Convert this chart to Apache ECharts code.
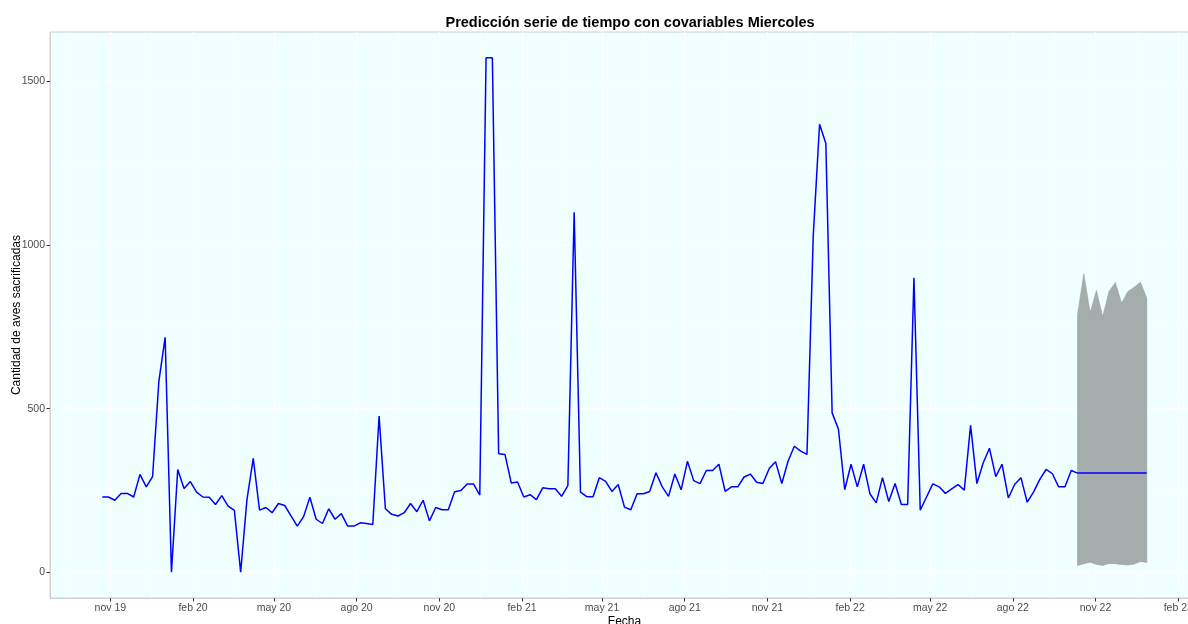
<!DOCTYPE html>
<html><head><meta charset="utf-8">
<script src="https://cdn.jsdelivr.net/npm/echarts@6/dist/echarts.min.js"></script>
<style>html,body{margin:0;padding:0;background:#fff}#c{width:1188px;height:624px}</style>
</head><body><div id="c"></div>
<script>
// ---- data ----
const startDate = '2019-10-23';   // first Wednesday of the series, weekly steps
const histValues = [
  230,230,220,241,241,230,299,261,292,583,
  718,0,314,256,277,245,230,229,207,234,
  202,189,0,222,348,190,198,182,210,204,
  172,141,170,229,162,149,194,162,179,141,
  141,151,149,146,477,194,177,172,182,210,
  185,220,157,198,191,191,246,250,270,270,
  236,1572,1572,362,360,273,276,230,237,222,
  258,255,255,232,265,1100,245,231,231,289,
  278,247,268,199,191,240,240,247,304,261,
  232,300,252,339,280,271,311,311,330,247,
  261,261,291,300,275,271,317,338,271,340,
  385,370,360,1030,1369,1310,487,437,252,330,
  261,330,240,212,289,216,271,207,207,900,
  190,230,270,261,241,255,268,251,449,271,
  334,379,292,330,227,268,289,214,245,284,
  314,301,261,261,311
];
const fcMean  = [303,303,303,303,303,303,303,303,303,303,303,303];
const fcLower = [21,26,31,24,21,27,26,24,22,25,33,30];
const fcUpper = [787,912,792,861,781,858,885,822,858,871,886,837];
const xTickDates = ['2019-11-01','2020-02-01','2020-05-01','2020-08-01','2020-11-01','2021-02-01','2021-05-01','2021-08-01','2021-11-01','2022-02-01','2022-05-01','2022-08-01','2022-11-01','2023-02-01'];
const xTickLabels = ['nov 19','feb 20','may 20','ago 20','nov 20','feb 21','may 21','ago 21','nov 21','feb 22','may 22','ago 22','nov 22','feb 23'];
const yTicks = [0,500,1000,1500];
const titleText = 'Predicción serie de tiempo con covariables Miercoles';
const xName = 'Fecha';
const yName = 'Cantidad de aves sacrificadas';

// ---- build ----
const DAY = 86400000;
const t0 = Date.parse(startDate + 'T00:00:00Z');
const allVals = histValues.concat(fcMean);
const dates = allVals.map((_, i) => t0 + i * 7 * DAY);
const fcDates = dates.slice(histValues.length);
const lineData = allVals.map((v, i) => [dates[i], v]);
const bandData = fcDates.map((t, i) => [t, fcLower[i], fcUpper[i]]);

const xFirst = dates[0], xLast = dates[dates.length - 1];
const xPad = (xLast - xFirst) * 0.05;
const xMin = xFirst - xPad, xMax = xLast + xPad;
const yLo = Math.min(...allVals, ...fcLower), yHi = Math.max(...allVals, ...fcUpper);
const yPad = (yHi - yLo) * 0.05;
const yMin = yLo - yPad, yMax = yHi + yPad;

const xTickTs = xTickDates.map(d => Date.parse(d + 'T00:00:00Z'));
const xMajorAll = [Date.parse('2019-08-01T00:00:00Z')].concat(xTickTs);
const xMinor = [];
for (let i = 0; i < xMajorAll.length - 1; i++) xMinor.push((xMajorAll[i] + xMajorAll[i + 1]) / 2);
const yMinor = [250, 750, 1250];

const gridLines = []
  .concat(xTickTs.map(t => ({ xAxis: t, lineStyle: { width: 1.1 } })))
  .concat(xMinor.map(t => ({ xAxis: t, lineStyle: { width: 0.5 } })))
  .concat(yTicks.map(v => ({ yAxis: v, lineStyle: { width: 1.1 } })))
  .concat(yMinor.map(v => ({ yAxis: v, lineStyle: { width: 0.5 } })));

const FONT = "'Liberation Sans', Arial, sans-serif";
const chart = echarts.init(document.getElementById('c'), null, { renderer: 'canvas' });
chart.setOption({
  animation: false,
  textStyle: { fontFamily: FONT },
  title: {
    text: titleText, left: 625, top: 10, textAlign: 'center',
    textStyle: { fontSize: 14.5, fontWeight: 'bold', color: '#000', fontFamily: FONT }
  },
  grid: {
    left: 50, top: 32, width: 1149, height: 566,
    outerBoundsMode: 'none', containLabel: false,
    show: true, backgroundColor: '#f0ffff', borderColor: '#d0d0d0', borderWidth: 1
  },
  xAxis: {
    type: 'value', min: xMin, max: xMax,
    name: xName, nameLocation: 'middle', nameGap: 18, nameMoveOverlap: false,
    nameTextStyle: { fontSize: 12, color: '#000', fontFamily: FONT },
    axisLine: { show: true, onZero: false, lineStyle: { color: '#d0d0d0' } },
    axisTick: { show: true, customValues: xTickTs, length: 3.5, lineStyle: { color: '#333' } },
    axisLabel: {
      customValues: xTickTs, color: '#4d4d4d', fontSize: 10.5, margin: 5, fontFamily: FONT,
      formatter: v => { const k = xTickTs.indexOf(v); return k >= 0 ? xTickLabels[k] : ''; }
    },
    splitLine: { show: false }
  },
  yAxis: {
    type: 'value', min: yMin, max: yMax,
    name: yName, nameLocation: 'middle', nameGap: 27, nameMoveOverlap: false,
    nameTextStyle: { fontSize: 12, color: '#000', fontFamily: FONT },
    axisLine: { show: true, onZero: false, lineStyle: { color: '#d0d0d0' } },
    axisTick: { show: true, customValues: yTicks, length: 3.5, lineStyle: { color: '#333' } },
    axisLabel: { customValues: yTicks, color: '#4d4d4d', fontSize: 10.5, margin: 5, fontFamily: FONT,
      formatter: v => String(v) },
    splitLine: { show: false }
  },
  series: [
    {
      type: 'line', data: [], symbol: 'none', z: 0, silent: true,
      markLine: {
        silent: true, symbol: ['none', 'none'], label: { show: false }, z: 0,
        lineStyle: { color: '#ffffff', type: 'solid' }, data: gridLines
      }
    },
    {
      type: 'custom', data: bandData, z: 2, silent: true,
      encode: { x: 0, y: [1, 2] },
      renderItem: (params, api) => {
        if (params.dataIndex !== 0) return null;
        const up = bandData.map(d => api.coord([d[0], d[2]]));
        const lo = bandData.map(d => api.coord([d[0], d[1]])).reverse();
        return {
          type: 'polygon',
          shape: { points: up.concat(lo) },
          style: { fill: '#a4acac', stroke: '#98a0a0', lineWidth: 0.6 }
        };
      }
    },
    {
      type: 'line', data: lineData, symbol: 'none', z: 3,
      lineStyle: { color: '#0000ff', width: 1.5 }
    }
  ]
});
</script>
</body></html>
